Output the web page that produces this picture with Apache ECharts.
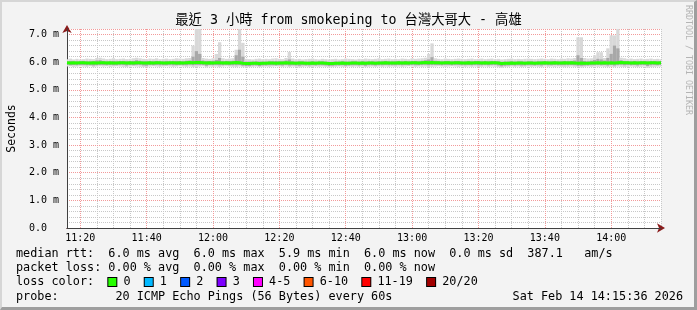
<!DOCTYPE html>
<html>
<head>
<meta charset="utf-8">
<script src="https://cdn.jsdelivr.net/npm/echarts@6/dist/echarts.min.js"></script>
<style>
  html, body { margin: 0; padding: 0; background: #f3f3f3; }
  #chart { position: absolute; left: 0; top: 0; width: 697px; height: 310px; }
  #frame { position: absolute; left: 0; top: 0; width: 697px; height: 310px; box-sizing: border-box;
           border-style: solid; border-width: 2px 3px 3px 2px;
           border-color: #d6d6d6 #9e9e9e #9e9e9e #d6d6d6; pointer-events: none; }
</style>
</head>
<body>
<div id="chart"></div>
<div id="frame"></div>
<script>
// ---- data (one value per minute, 11:16 .. 14:15) ----
const startMinute = 11 * 60 + 16;
const tickLabels = ['11:20','11:40','12:00','12:20','12:40','13:00','13:20','13:40','14:00'];
const yTickLabels = ['0.0  ','1.0 m','2.0 m','3.0 m','4.0 m','5.0 m','6.0 m','7.0 m'];

const medianRtt = [
 5.98,5.97,5.98,5.97,5.98,5.98,5.97,5.97,5.98,5.97,5.98,5.98,5.97,5.98,5.97,5.97,5.98,5.98,5.97,5.98,
 5.97,5.98,5.98,5.97,5.97,5.98,5.97,5.98,5.98,5.97,5.97,5.98,5.98,5.97,5.98,5.97,5.98,5.99,5.98,5.99,
 5.99,5.98,5.97,5.98,5.97,5.98,5.98,5.97,5.98,5.97,5.98,5.99,5.98,5.96,5.95,5.95,5.96,5.96,5.95,5.96,
 5.96,5.97,5.97,5.96,5.97,5.97,5.98,5.97,5.97,5.96,5.97,5.97,5.96,5.96,5.97,5.96,5.97,5.97,5.96,5.95,
 5.95,5.96,5.96,5.97,5.96,5.96,5.97,5.97,5.96,5.97,5.96,5.97,5.97,5.96,5.97,5.97,5.98,5.97,5.97,5.97,
 5.98,5.97,5.98,5.97,5.98,5.98,5.97,5.98,5.99,5.98,5.99,5.98,5.98,5.97,5.98,5.98,5.97,5.98,5.98,5.97,
 5.97,5.98,5.97,5.98,5.98,5.97,5.98,5.97,5.98,5.98,5.97,5.95,5.96,5.96,5.97,5.96,5.97,5.97,5.96,5.97,
 5.97,5.96,5.97,5.97,5.98,5.97,5.97,5.98,5.97,5.97,5.98,5.97,5.98,5.97,5.96,5.97,5.96,5.96,5.97,5.97,
 5.98,5.97,5.98,5.97,5.98,5.97,5.98,5.99,5.98,5.98,5.97,5.98,5.97,5.98,5.98,5.97,5.98,5.98,5.97,5.98
];
const minRtt = [
 5.84,5.85,5.83,5.84,5.85,5.84,5.83,5.85,5.82,5.84,5.85,5.84,5.85,5.83,5.84,5.85,5.84,5.83,5.82,5.84,
 5.85,5.84,5.83,5.82,5.81,5.84,5.85,5.84,5.83,5.84,5.85,5.84,5.83,5.84,5.85,5.84,5.83,5.84,5.82,5.83,
 5.84,5.85,5.81,5.84,5.83,5.84,5.82,5.84,5.85,5.84,5.83,5.82,5.84,5.82,5.81,5.82,5.83,5.84,5.82,5.83,
 5.84,5.83,5.84,5.85,5.84,5.83,5.84,5.82,5.84,5.83,5.81,5.83,5.84,5.82,5.83,5.84,5.83,5.84,5.83,5.81,
 5.82,5.83,5.84,5.83,5.82,5.84,5.83,5.84,5.83,5.84,5.82,5.83,5.84,5.83,5.84,5.83,5.84,5.83,5.84,5.83,
 5.84,5.83,5.84,5.85,5.84,5.83,5.84,5.83,5.84,5.82,5.83,5.84,5.85,5.84,5.83,5.84,5.85,5.84,5.83,5.84,
 5.83,5.84,5.83,5.84,5.82,5.83,5.84,5.83,5.84,5.83,5.82,5.80,5.82,5.83,5.84,5.83,5.84,5.82,5.83,5.84,
 5.83,5.84,5.83,5.82,5.84,5.83,5.84,5.83,5.84,5.83,5.82,5.83,5.84,5.83,5.82,5.81,5.83,5.84,5.83,5.84,
 5.83,5.84,5.83,5.82,5.83,5.82,5.84,5.83,5.82,5.83,5.84,5.83,5.82,5.83,5.84,5.80,5.82,5.83,5.84,5.83
];
const maxRtt = [
 6.11,6.13,6.10,6.12,6.10,6.11,6.13,6.12,6.11,6.15,6.16,6.13,6.11,6.12,6.14,6.11,6.12,6.13,6.11,6.12,
 6.14,6.16,6.14,6.12,6.11,6.13,6.12,6.14,6.11,6.12,6.13,6.11,6.12,6.14,6.13,6.12,6.14,6.15,6.60,7.20,
 7.20,6.15,6.13,6.12,6.14,6.30,6.72,6.14,6.12,6.13,6.14,6.45,7.20,6.70,6.12,6.11,6.10,6.12,6.13,6.11,
 6.12,6.11,6.13,6.14,6.12,6.11,6.15,6.37,6.13,6.11,6.12,6.10,6.11,6.12,6.13,6.11,6.10,6.12,6.11,6.10,
 6.11,6.12,6.10,6.11,6.13,6.12,6.11,6.10,6.12,6.11,6.13,6.12,6.11,6.12,6.14,6.11,6.12,6.13,6.11,6.12,
 6.11,6.13,6.12,6.11,6.14,6.12,6.13,6.14,6.16,6.30,6.68,6.14,6.12,6.11,6.13,6.12,6.11,6.12,6.13,6.12,
 6.11,6.12,6.13,6.11,6.12,6.13,6.11,6.12,6.13,6.11,6.12,6.10,6.11,6.12,6.13,6.11,6.12,6.11,6.12,6.13,
 6.12,6.11,6.12,6.13,6.12,6.11,6.13,6.12,6.11,6.13,6.12,6.14,6.13,6.15,6.90,6.90,6.15,6.13,6.14,6.25,
 6.36,6.36,6.15,6.50,6.97,6.97,7.20,6.16,6.14,6.12,6.13,6.11,6.12,6.13,6.11,6.12,6.13,6.11,6.12,6.11
];
const lowerQuartile = [
 5.90,5.89,5.90,5.89,5.90,5.90,5.89,5.89,5.88,5.89,5.90,5.90,5.89,5.90,5.89,5.89,5.90,5.90,5.88,5.90,
 5.89,5.90,5.90,5.88,5.87,5.90,5.89,5.90,5.89,5.89,5.89,5.90,5.89,5.89,5.90,5.89,5.89,5.91,5.89,5.90,
 5.90,5.90,5.87,5.90,5.89,5.90,5.89,5.89,5.90,5.89,5.89,5.89,5.90,5.87,5.86,5.86,5.88,5.88,5.86,5.88,
 5.88,5.89,5.89,5.88,5.89,5.88,5.90,5.88,5.89,5.88,5.87,5.89,5.88,5.88,5.89,5.88,5.89,5.89,5.88,5.86,
 5.87,5.88,5.88,5.89,5.87,5.88,5.89,5.89,5.88,5.89,5.87,5.89,5.89,5.88,5.89,5.89,5.90,5.89,5.89,5.89,
 5.90,5.89,5.90,5.89,5.90,5.89,5.89,5.90,5.91,5.89,5.90,5.90,5.90,5.89,5.90,5.90,5.89,5.90,5.90,5.89,
 5.89,5.90,5.89,5.90,5.89,5.89,5.90,5.89,5.90,5.90,5.88,5.85,5.87,5.88,5.89,5.88,5.89,5.88,5.88,5.89,
 5.89,5.88,5.89,5.88,5.90,5.89,5.89,5.90,5.89,5.89,5.89,5.89,5.90,5.89,5.87,5.87,5.88,5.88,5.89,5.89,
 5.90,5.89,5.90,5.88,5.90,5.88,5.90,5.91,5.89,5.90,5.89,5.90,5.88,5.90,5.90,5.86,5.89,5.90,5.89,5.90
];
const upperQuartile = [
 6.03,6.04,6.03,6.03,6.03,6.04,6.03,6.03,6.03,6.06,6.07,6.04,6.03,6.03,6.04,6.03,6.04,6.04,6.03,6.04,
 6.04,6.07,6.05,6.03,6.03,6.04,6.03,6.04,6.03,6.03,6.04,6.03,6.04,6.04,6.04,6.03,6.05,6.06,6.20,6.40,
 6.30,6.06,6.04,6.04,6.05,6.08,6.15,6.04,6.04,6.04,6.05,6.25,6.45,6.20,6.02,6.02,6.02,6.03,6.02,6.02,
 6.02,6.03,6.03,6.04,6.03,6.03,6.06,6.10,6.03,6.02,6.03,6.03,6.02,6.02,6.03,6.02,6.03,6.03,6.02,6.01,
 6.01,6.02,6.02,6.03,6.02,6.02,6.03,6.03,6.02,6.03,6.02,6.03,6.03,6.02,6.03,6.03,6.04,6.03,6.03,6.03,
 6.04,6.03,6.04,6.03,6.04,6.04,6.03,6.05,6.07,6.10,6.18,6.05,6.04,6.03,6.04,6.04,6.03,6.04,6.04,6.03,
 6.03,6.04,6.03,6.04,6.04,6.03,6.04,6.03,6.04,6.04,6.03,6.01,6.02,6.02,6.03,6.02,6.03,6.03,6.02,6.03,
 6.03,6.02,6.03,6.03,6.04,6.03,6.03,6.04,6.03,6.03,6.04,6.04,6.04,6.06,6.25,6.15,6.04,6.03,6.05,6.08,
 6.12,6.10,6.06,6.15,6.30,6.60,6.50,6.07,6.04,6.04,6.03,6.04,6.03,6.04,6.04,6.03,6.04,6.04,6.03,6.04
];

const lossLabels = ['0','1','2','3','4-5','6-10','11-19','20/20'];
const lossColors = ['#26ff00','#00b8ff','#0059ff','#7e00ff','#ff00ff','#ff5500','#ff0000','#a10000'];

const titleText = '最近 3 小時 from smokeping to 台灣大哥大 - 高雄';
const statsRow = 'median rtt:  6.0 ms avg  6.0 ms max  5.9 ms min  6.0 ms now  0.0 ms sd  387.1   am/s';
const lossRow  = 'packet loss: 0.00 % avg  0.00 % max  0.00 % min  0.00 % now';
const probeRow = 'probe:        20 ICMP Echo Pings (56 Bytes) every 60s';
const dateText = 'Sat Feb 14 14:15:36 2026';
const watermark = 'RRDTOOL / TOBI OETIKER';

// ---- build ----
const pad = n => (n < 10 ? '0' : '') + n;
const categories = medianRtt.map((_, i) => {
  const m = startMinute + i;
  return pad(Math.floor(m / 60)) + ':' + pad(m % 60);
});
const smokeData = medianRtt.map((_, i) => [i, minRtt[i], maxRtt[i], lowerQuartile[i], upperQuartile[i]]);
const isMinor = (idx, val) => (+String(val).slice(3)) % 5 === 0;
const isMajor = (idx, val) => tickLabels.includes(val);

const MONO = "'DejaVu Sans Mono', 'Noto Sans CJK TC', monospace";
const rich = {};
let lossText = 'loss color:  ';
lossLabels.forEach((lab, k) => {
  rich['c' + k] = { width: 8, height: 8, backgroundColor: lossColors[k], borderColor: '#000', borderWidth: 1 };
  lossText += '{c' + k + '|} ' + lab + (k < lossLabels.length - 1 ? '  ' : '');
});

const legendStyle = { fontFamily: MONO, fontSize: 11.8, color: '#000', fontWeight: 'normal', lineHeight: 14 };

const chart = echarts.init(document.getElementById('chart'), null, { renderer: 'canvas' });
chart.setOption({
  animation: false,
  backgroundColor: '#f3f3f3',
  title: [
    { text: titleText, left: 'center', top: 13, padding: 0,
      textStyle: { fontFamily: MONO, fontSize: 13.3, fontWeight: 'normal', color: '#000', lineHeight: 16 } },
    { text: statsRow, left: 16, top: 247, padding: 0, textStyle: legendStyle },
    { text: lossRow, left: 16, top: 261, padding: 0, textStyle: legendStyle },
    { text: lossText, left: 16, top: 275, padding: 0, textStyle: Object.assign({ rich: rich }, legendStyle) },
    { text: probeRow, left: 16, top: 290, padding: 0, textStyle: legendStyle },
    { text: dateText, right: 14, top: 290, padding: 0, textStyle: legendStyle }
  ],
  graphic: [
    { type: 'text', x: 688, y: 5, rotation: -Math.PI / 2,
      style: { text: watermark, fill: '#b4b4b4', font: "8.3px 'DejaVu Sans Mono'", align: 'left', verticalAlign: 'middle' } }
  ],
  grid: { left: 67, right: 36, top: 29, bottom: 82, show: true, backgroundColor: '#ffffff', borderWidth: 0,
          z: 0, outerBoundsMode: 'none', containLabel: false },
  xAxis: [
    { type: 'category', data: categories, boundaryGap: false, position: 'bottom', z: 1,
      axisLine: { show: true, symbol: ['none', 'arrow'], symbolSize: [7, 8], symbolOffset: [0, 4],
                  lineStyle: { color: '#8a1a1a', width: 1 } },
      axisTick: { show: false, interval: isMinor }, axisLabel: { show: false, interval: isMinor },
      splitLine: { show: true, interval: isMinor,
                   lineStyle: { color: '#c8c8c8', type: [1, 1], width: 1 } } },
    { type: 'category', data: categories, boundaryGap: false, position: 'bottom', z: 2,
      axisLine: { show: true, lineStyle: { color: '#404040', width: 1 } },
      axisTick: { show: false, interval: isMajor },
      axisLabel: { interval: isMajor, margin: 5, fontFamily: MONO, fontSize: 10, color: '#000' },
      splitLine: { show: true, interval: isMajor,
                   lineStyle: { color: '#f29a9a', type: [1, 1], width: 1 } } }
  ],
  yAxis: [
    { type: 'value', min: 0, max: 7.2, interval: 0.2, position: 'left', z: 1,
      axisLine: { show: true, symbol: ['none', 'arrow'], symbolSize: [7, 8], symbolOffset: [0, 4],
                  lineStyle: { color: '#8a1a1a', width: 1 } },
      axisTick: { show: false }, axisLabel: { show: false },
      splitLine: { show: true, lineStyle: { color: '#c8c8c8', type: [1, 1], width: 1 } } },
    { type: 'value', min: 0, max: 7.2, interval: 1, position: 'left', z: 2,
      name: 'Seconds', nameLocation: 'middle', nameGap: 49,
      nameTextStyle: { fontFamily: MONO, fontSize: 11.5, color: '#000' },
      axisLine: { show: true, lineStyle: { color: '#404040', width: 1 } },
      axisTick: { show: false },
      axisLabel: { margin: 8, fontFamily: MONO, fontSize: 10, color: '#000',
                   formatter: v => (Number.isInteger(Math.round(v * 1000) / 1000) ? (yTickLabels[Math.round(v)] || '') : '') },
      splitLine: { show: true, lineStyle: { color: '#f29a9a', type: [1, 1], width: 1 } } }
  ],
  series: [
    { type: 'custom', xAxisIndex: 1, yAxisIndex: 1, clip: true, data: smokeData, z: 3,
      renderItem: (params, api) => {
        const x = api.value(0);
        const lo = api.coord([x, api.value(1)]);
        const hi = api.coord([x, api.value(2)]);
        const q1 = api.coord([x, api.value(3)]);
        const q3 = api.coord([x, api.value(4)]);
        const w = api.size([1, 0])[0];
        return { type: 'group', children: [
          { type: 'rect', shape: { x: lo[0] - w / 2, y: hi[1], width: w, height: lo[1] - hi[1] },
            style: { fill: '#d8d8d8' } },
          { type: 'rect', shape: { x: lo[0] - w / 2, y: q3[1], width: w, height: q1[1] - q3[1] },
            style: { fill: '#a8a8a8' } }
        ] };
      } },
    { type: 'line', xAxisIndex: 1, yAxisIndex: 1, data: medianRtt, showSymbol: false, symbol: 'none',
      step: 'middle', lineStyle: { color: '#26ff00', width: 3 }, z: 4 }
  ]
});
</script>
</body>
</html>
